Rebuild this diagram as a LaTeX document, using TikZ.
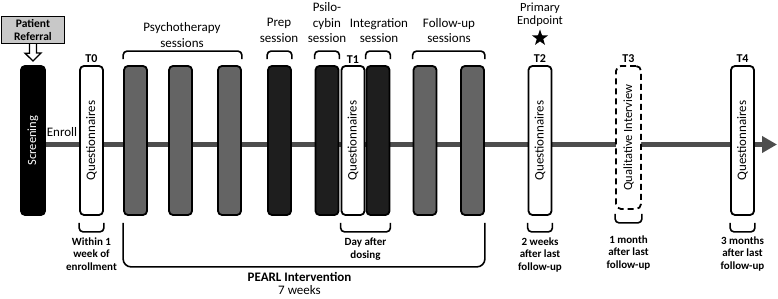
\documentclass[tikz,border=0pt]{standalone}
\usepackage{fontspec}
\setmainfont{Carlito}
\usepackage{graphicx}
\usetikzlibrary{arrows.meta,shapes.geometric}
\definecolor{tlgrey}{HTML}{4D4D4D}
\definecolor{midgrey}{HTML}{646464}
\definecolor{darkbar}{HTML}{1E1E1E}
\definecolor{refgrey}{HTML}{C8C8C8}
\begin{document}
\begin{tikzpicture}[x=1pt,y=1pt,
  bar/.style={draw=black, line width=1.8pt, rounded corners=4pt,
    minimum width=23pt, minimum height=149pt, inner sep=0pt},
  qbar/.style={bar, fill=white},
  gbar/.style={bar, fill=midgrey},
  dbar/.style={bar, fill=darkbar},
  brk/.style={draw=black, line width=1.6pt, rounded corners=4pt},
  lbl/.style={font=\fontsize{13}{15.5}\selectfont, align=center, inner sep=0pt},
  small/.style={font=\bfseries\fontsize{11}{12.5}\selectfont, align=center, inner sep=0pt},
  tlab/.style={font=\bfseries\fontsize{12}{14}\selectfont, inner sep=0pt}
]
\useasboundingbox (0,0) rectangle (778,299);

% timeline
\coordinate (tlstart) at (46,154.5);
\coordinate (tlend) at (777,154.5);
\draw[line width=5pt, tlgrey, -{Triangle[length=15pt,width=16pt]}] (tlstart) -- (tlend);

% patient referral
\node[draw=black, line width=1.4pt, fill=refgrey, minimum width=63pt, minimum height=27pt,
  inner sep=0pt, align=center, font=\bfseries\fontsize{11.5}{13}\selectfont] (pr) at (33,269) {Patient\\Referral};
\coordinate (prtip) at (33,238);
\draw[fill=white, line width=1.3pt, line join=miter]
  ([xshift=-3.5pt]pr.south) -- ++(0,-9) -- ++(-4.5,0) -- (prtip) -- ++(8,8) -- ++(-4.5,0) -- ([xshift=3.5pt]pr.south);

% bars
\node[bar, fill=black, minimum width=24pt] (scr) at (33,158.5) {\rotatebox{90}{\color{white}\fontsize{12.5}{14}\selectfont Screening}};
\node[qbar] (t0) at (91.5,158.5) {\rotatebox{90}{\fontsize{13}{15}\selectfont Questionnaires}};
\node[gbar] (p1) at (135.5,158.5) {};
\node[gbar] (p2) at (180.5,158.5) {};
\node[gbar] (p3) at (229.5,158.5) {};
\node[dbar] (prep) at (279.5,158.5) {};
\node[dbar] (psi) at (327,158.5) {};
\node[qbar] (t1) at (353,158.5) {\rotatebox{90}{\fontsize{13}{15}\selectfont Questionnaires}};
\node[dbar] (integ) at (378,158.5) {};
\node[gbar] (f1) at (425,158.5) {};
\node[gbar] (f2) at (472.5,158.5) {};
\node[qbar] (t2) at (540,158.5) {\rotatebox{90}{\fontsize{13}{15}\selectfont Questionnaires}};
\node[qbar, dash pattern=on 6pt off 4pt, rounded corners=5pt, minimum width=25pt, minimum height=143pt] (t3) at (628.5,161.5) {\rotatebox{90}{\fontsize{12.5}{15}\selectfont Qualitative Interview}};
\node[qbar] (t4) at (742.5,158.5) {\rotatebox{90}{\fontsize{13}{15}\selectfont Questionnaires}};

% enroll
\node[lbl] (enroll) at (62,167) {Enroll};

% T labels
\node[tlab] (lt0) at (91.5,240) {T0};
\node[tlab] (lt1) at (353,239.5) {T1};
\node[tlab] (lt2) at (540,240) {T2};
\node[tlab] (lt3) at (628.5,240) {T3};
\node[tlab] (lt4) at (742.5,240) {T4};

% top braces
\draw[brk] ([yshift=6pt]p1.north west) -- ++(0,8) -| ([yshift=6pt]p3.north east);
\draw[brk] ([yshift=6pt]prep.north west) -- ++(0,8) -| ([yshift=6pt]prep.north east);
\draw[brk] ([yshift=6pt]psi.north west) -- ++(0,8) -| ([yshift=6pt]psi.north east);
\draw[brk] ([yshift=6pt]integ.north west) -- ++(0,8) -| ([yshift=6pt]integ.north east);
\draw[brk] ([yshift=6pt]f1.north west) -- ++(0,8) -| ([yshift=6pt]f2.north east);

% top labels
\node[lbl] (lpsy) at (182,264) {Psychotherapy\\sessions};
\node[lbl] (lprep) at (279,268.5) {Prep\\session};
\node[lbl] (lpsi) at (327,276) {Psilo-\\cybin\\session};
\node[lbl] (linteg) at (379,268.5) {Integration\\session};
\node[lbl] (lfol) at (449,268.5) {Follow-up\\sessions};
\node[lbl, font=\fontsize{12.5}{13.5}\selectfont] (lprim) at (540,284.5) {Primary\\Endpoint};
\node[star, star points=5, star point ratio=2.5, fill=black, minimum size=17pt, inner sep=0pt] (star) at (540,261) {};

% bottom brackets
\draw[brk] ([yshift=-7pt]t0.south west) -- ++(0,-9) -| ([yshift=-7pt]t0.south east);
\draw[brk] ([yshift=-7pt]t1.south west) -- ++(0,-9) -| ([yshift=-7pt]integ.south east);
\draw[brk] ([yshift=-7pt]t2.south west) -- ++(0,-9) -| ([yshift=-7pt]t2.south east);
\draw[brk] ([yshift=-4pt]t3.south west) -- ++(0,-9) -| ([yshift=-4pt]t3.south east);
\draw[brk] ([yshift=-7pt]t4.south west) -- ++(0,-9) -| ([yshift=-7pt]t4.south east);
\draw[brk, rounded corners=8pt] ([yshift=-7pt]p1.south west) -- ++(0,-44) -| ([yshift=-7pt]f2.south east);

% bottom labels
\node[small] (lw0) at (91.5,45) {Within 1\\week of\\enrollment};
\node[small] (lday) at (365.5,50) {Day after\\dosing};
\node[small] (lw2) at (540,44) {2 weeks\\after last\\follow-up};
\node[small] (lw3) at (628.5,46) {1 month\\after last\\follow-up};
\node[small] (lw4) at (742.5,45) {3 months\\after last\\follow-up};
\node[lbl, font=\bfseries\fontsize{13}{15}\selectfont] (lpearl) at (299.5,22.5) {PEARL Intervention};
\node[lbl] (lweeks) at (299.5,8.5) {7 weeks};
\end{tikzpicture}
\end{document}
